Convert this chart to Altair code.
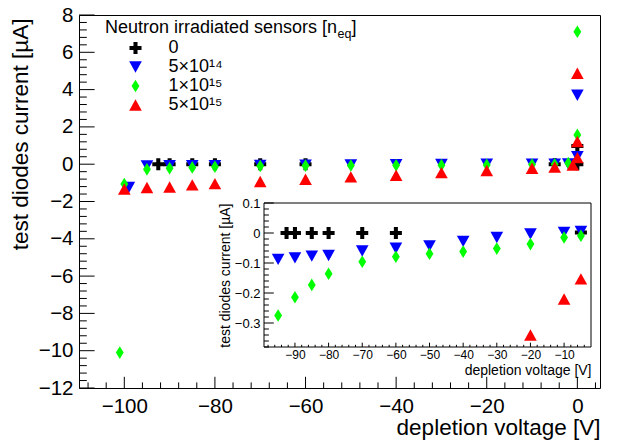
import altair as alt
import pandas as pd

# ---------------- data ----------------
SERIES = ["0", "5×10¹⁴", "1×10¹⁵", "5×10¹⁵"]
COLORS = ["#000000", "#0000ff", "#00ff00", "#ff0000"]
SHAPES = [
    "M-0.32,-0.95L0.32,-0.95L0.32,-0.32L0.95,-0.32L0.95,0.32L0.32,0.32L0.32,0.95L-0.32,0.95L-0.32,0.32L-0.95,0.32L-0.95,-0.32L-0.32,-0.32Z",
    "M-1,-0.9L1,-0.9L0,0.9Z",
    "M0,-1L0.62,0L0,1L-0.62,0Z",
    "M0,-0.9L1,0.9L-1,0.9Z",
]

v_0 = [-92.5, -90, -85, -80, -70, -60, -5, 0, 0]
i_0 = [0.0, 0.0, 0.0, 0.0, 0.0, 0.0, 0.002, 0.98, 0.0]

v_5e14 = [-99, -95, -90, -85, -80, -70, -60, -50, -40, -30, -20, -10, -5, -2, 0, 0]
i_5e14 = [-1.25, -0.088, -0.083, -0.077, -0.075, -0.06, -0.051, -0.043, -0.028,
          -0.015, -0.003, 0.002, 0.005, 0.01, 0.4, 3.7]

v_1e15 = [-101, -100, -95, -90, -85, -80, -70, -60, -50, -40, -30, -20, -10, -5, -2, 0, 0]
i_1e15 = [-10.1, -1.06, -0.275, -0.214, -0.173, -0.136, -0.096, -0.079, -0.069,
          -0.062, -0.052, -0.037, -0.015, -0.009, 0.06, 1.57, 7.1]

v_5e15 = [-100, -95, -90, -85, -80, -70, -60, -50, -40, -30, -20, -10, -5, -1, 0, 0, 0]
i_5e15 = [-1.33, -1.25, -1.22, -1.11, -1.04, -0.93, -0.81, -0.68, -0.59, -0.45,
          -0.34, -0.22, -0.153, -0.05, 0.35, 1.22, 4.88]

# axis tick values (main)
X_MAJOR = [-100, -80, -60, -40, -20, 0]
Y_MAJOR = [-12, -10, -8, -6, -4, -2, 0, 2, 4, 6, 8]
# inset
IX_MAJOR = [-90, -80, -70, -60, -50, -40, -30, -20, -10]
IY_MAJOR = [0.1, 0.0, -0.1, -0.2, -0.3]

X_MINOR = [v for v in range(-108, 5, 4) if v not in X_MAJOR]
Y_MINOR = [round(-12 + 0.4 * k, 2) for k in range(51)]
Y_MINOR = [v for v in Y_MINOR if v not in Y_MAJOR]
IX_MINOR = [v for v in range(-98, -3, 2) if v not in IX_MAJOR]
IY_MINOR = [round(-0.38 + 0.02 * k, 2) for k in range(24)]
IY_MINOR = [v for v in IY_MINOR if round(v * 10, 6) != round(v * 10)]

# ---------------- layout ----------------
W, H = 521, 373
FONT = "Liberation Sans"
X_DOM = [-110, 5]
Y_DOM = [-12, 8]
IX_DOM = [-99.2, -2]
IY_DOM = [-0.38, 0.1]
IX_RANGE = [185, 512]
IY_RANGE = [332, 188]

rows = []
for name, vs, cs in zip(SERIES, [v_0, v_5e14, v_1e15, v_5e15], [i_0, i_5e14, i_1e15, i_5e15]):
    for v, c in zip(vs, cs):
        rows.append({"V": v, "I": c, "series": name})
df = pd.DataFrame(rows)

LEG = alt.Legend(title=None, orient="none", legendX=47.5, legendY=24, padding=0,
                 labelFontSize=18, labelFont=FONT, labelColor="black",
                 symbolSize=160, symbolStrokeWidth=0, labelOffset=24, rowPadding=1)
color_enc = alt.Color("series:N", scale=alt.Scale(domain=SERIES, range=COLORS), legend=LEG)
shape_enc = alt.Shape("series:N", scale=alt.Scale(domain=SERIES, range=SHAPES), legend=LEG)

xs_main = alt.Scale(domain=X_DOM, nice=False, zero=False)
ys_main = alt.Scale(domain=Y_DOM, nice=False, zero=False)
xs_in = alt.Scale(domain=IX_DOM, range=IX_RANGE, nice=False, zero=False)
ys_in = alt.Scale(domain=IY_DOM, range=IY_RANGE, nice=False, zero=False)

X_AXIS_MAIN = alt.Axis(
    values=X_MAJOR, ticks=False, domain=False, grid=False, labelFontSize=20.5,
    labelPadding=8, labelFlush=False, labelOverlap=False, format="d",
    title="depletion voltage [V]", titleFontSize=22.5, titleX=W, titleY=46,
    titleAlign="right", titleBaseline="alphabetic")
Y_AXIS_MAIN = alt.Axis(
    values=Y_MAJOR, ticks=False, domain=False, grid=False, labelFontSize=20.5,
    labelPadding=6, labelFlush=False, labelOverlap=False, format="d",
    title="test diodes current [µA]", titleFontSize=22.5, titleAngle=270,
    titleAlign="right", titleBaseline="bottom", titleX=-47, titleY=3)
X_AXIS_IN = alt.Axis(
    orient="bottom", offset=IY_RANGE[0] - H, values=IX_MAJOR, ticks=False, domain=False,
    grid=False, labelFontSize=12, labelPadding=2, labelFlush=False, labelOverlap=False,
    format="d", title="depletion voltage [V]", titleFontSize=14, titleX=IX_RANGE[1],
    titleY=27, titleAlign="right", titleBaseline="alphabetic")
Y_AXIS_IN = alt.Axis(
    orient="left", offset=-IX_RANGE[0], values=IY_MAJOR, ticks=False, domain=False,
    grid=False, labelFontSize=13, labelPadding=4, labelFlush=False, labelOverlap=False,
    format=".1~f", title="test diodes current [µA]", titleFontSize=14, titleAngle=270,
    titleAlign="right", titleBaseline="bottom", titleX=-32, titleY=IY_RANGE[1])


def yticks(vals, scale, axis, x0, length):
    return alt.Chart(pd.DataFrame({"I": vals})).mark_rule(color="black", strokeWidth=1).encode(
        y=alt.Y("I:Q", scale=scale, axis=axis), x=alt.value(x0), x2=alt.value(x0 + length))


def xticks(vals, scale, axis, y0, length):
    return alt.Chart(pd.DataFrame({"V": vals})).mark_rule(color="black", strokeWidth=1).encode(
        x=alt.X("V:Q", scale=scale, axis=axis), y=alt.value(y0), y2=alt.value(y0 - length))


main_points = alt.Chart(df).mark_point(filled=True, size=160, opacity=1, strokeWidth=0).encode(
    x=alt.X("V:Q", scale=xs_main, axis=X_AXIS_MAIN),
    y=alt.Y("I:Q", scale=ys_main, axis=Y_AXIS_MAIN),
    color=color_enc, shape=shape_enc,
)

title_df = pd.DataFrame({"t": ["Neutron irradiated sensors [n"]})
sub_df = pd.DataFrame({"t": ["eq"]})
close_df = pd.DataFrame({"t": ["]"]})
leg_title = alt.Chart(title_df).mark_text(align="left", baseline="alphabetic", fontSize=18, font=FONT,
                                          color="black").encode(text="t:N", x=alt.value(26), y=alt.value(18.3))
leg_sub = alt.Chart(sub_df).mark_text(align="left", baseline="alphabetic", fontSize=12.5, font=FONT,
                                      color="black").encode(text="t:N", x=alt.value(258.5), y=alt.value(23))
leg_close = alt.Chart(close_df).mark_text(align="left", baseline="alphabetic", fontSize=18, font=FONT,
                                          color="black").encode(text="t:N", x=alt.value(272.5), y=alt.value(18.3))

main = alt.layer(
    yticks(Y_MAJOR, ys_main, Y_AXIS_MAIN, 0, 15.6),
    yticks(Y_MINOR, ys_main, Y_AXIS_MAIN, 0, 7.8),
    xticks(X_MAJOR, xs_main, X_AXIS_MAIN, H, 11.2),
    xticks(X_MINOR, xs_main, X_AXIS_MAIN, H, 5.6),
    main_points,
    leg_title, leg_sub, leg_close,
)

# ---------------- inset ----------------
frame_df = pd.DataFrame({"V": [IX_DOM[0]], "V2": [IX_DOM[1]], "I": [IY_DOM[0]], "I2": [IY_DOM[1]]})
inset_frame = alt.Chart(frame_df).mark_rect(fillOpacity=0, stroke="black", strokeWidth=1).encode(
    x=alt.X("V:Q", scale=xs_in, axis=X_AXIS_IN), x2="V2:Q",
    y=alt.Y("I:Q", scale=ys_in, axis=Y_AXIS_IN), y2="I2:Q")

inset_points = alt.Chart(df).transform_filter(
    (alt.datum.V > IX_DOM[0]) & (alt.datum.V < IX_DOM[1]) &
    (alt.datum.I > IY_DOM[0]) & (alt.datum.I < IY_DOM[1])
).mark_point(filled=True, size=160, opacity=1, strokeWidth=0).encode(
    x=alt.X("V:Q", scale=xs_in, axis=X_AXIS_IN),
    y=alt.Y("I:Q", scale=ys_in, axis=Y_AXIS_IN),
    color=color_enc, shape=shape_enc,
)

inset = alt.layer(
    inset_frame,
    yticks(IY_MAJOR, ys_in, Y_AXIS_IN, IX_RANGE[0], 9.8),
    yticks(IY_MINOR, ys_in, Y_AXIS_IN, IX_RANGE[0], 4.9),
    xticks(IX_MAJOR, xs_in, X_AXIS_IN, IY_RANGE[0], 4.3),
    xticks(IX_MINOR, xs_in, X_AXIS_IN, IY_RANGE[0], 2.2),
    inset_points,
)

chart = alt.layer(main, inset).resolve_scale(
    x="independent", y="independent"
).properties(
    width=W, height=H,
    padding={"left": 79, "top": 15, "right": 18, "bottom": 57},
    autosize=alt.AutoSizeParams(type="none"),
    background="white",
).configure_view(stroke="black", strokeWidth=1).configure_axis(
    labelFont=FONT, titleFont=FONT, labelColor="black", titleColor="black", titleFontWeight="normal"
)

chart.save("out.html", embed_options={"renderer": "svg", "actions": False})
